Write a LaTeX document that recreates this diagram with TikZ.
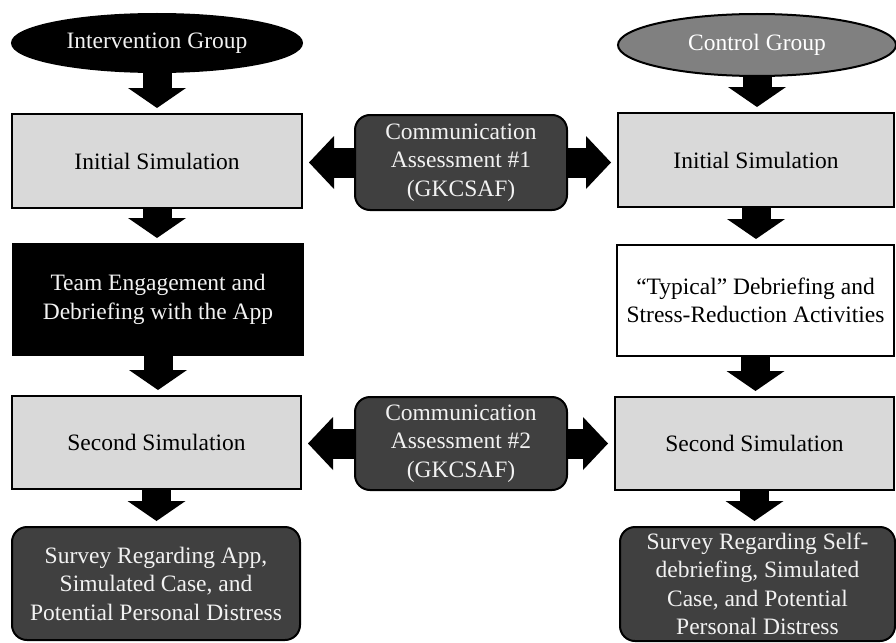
\documentclass[tikz,border=0pt]{standalone}
\usepackage{fontspec}
\setmainfont{Liberation Serif}
\usetikzlibrary{shapes.geometric,arrows.meta}
\definecolor{simgray}{HTML}{D9D9D9}
\definecolor{darkbox}{HTML}{404040}
\definecolor{midgray}{HTML}{808080}
\definecolor{lighttext}{HTML}{F2F2F2}
\tikzset{
  base/.style={font=\fontsize{23.5pt}{28.5pt}\selectfont, align=center, line width=2pt, draw=black, inner sep=0pt},
  simbox/.style={base, rectangle, fill=simgray, text=black},
  blackbox/.style={base, rectangle, fill=black, text=lighttext},
  whitebox/.style={base, rectangle, fill=white, text=black},
  darkround/.style={base, rectangle, rounded corners=15pt, fill=darkbox, text=lighttext},
  groupell/.style={base, ellipse},
  varrow/.style={line width=29pt, -{Triangle[width=58pt,length=20pt,line width=0pt]}, shorten >=5pt},
  harrow/.style={line width=30pt, -{Triangle[width=53pt,length=25pt,line width=0pt]}, shorten >=6pt}
}
\begin{document}
\begin{tikzpicture}[x=1pt,y=-1pt]
\useasboundingbox (0,0) rectangle (896,642);
% left column
\node[groupell, fill=black, text=lighttext, minimum width=290pt, minimum height=58pt] (IG) at (157,43) {Intervention Group};
\node[simbox, minimum width=290pt, minimum height=94pt] (L1) at (157,161) {Initial Simulation};
\node[blackbox, minimum width=290pt, minimum height=111pt] (L2) at (158,299.5) {Team Engagement and\\Debriefing with the App};
\node[simbox, minimum width=289pt, minimum height=93pt] (L3) at (156.5,442.5) {Second Simulation};
\node[darkround, minimum width=288pt, minimum height=113pt] (L4) at (156,583.5) {Survey Regarding App,\\Simulated Case, and\\Potential Personal Distress};
% right column
\node[groupell, fill=midgray, text=white, minimum width=278pt, minimum height=62pt] (CG) at (757,45) {Control Group};
\node[simbox, minimum width=276pt, minimum height=94pt] (R1) at (756,160) {Initial Simulation};
\node[whitebox, minimum width=277pt, minimum height=111pt] (R2) at (755.5,300.5) {“Typical” Debriefing and\\Stress-Reduction Activities};
\node[simbox, minimum width=279pt, minimum height=93pt] (R3) at (754.5,443.5) {Second Simulation};
\node[darkround, minimum width=275pt, minimum height=114pt] (R4) at (757.5,584) {Survey Regarding Self-\\debriefing, Simulated\\Case, and Potential\\Personal Distress};
% middle
\node[darkround, minimum width=212pt, minimum height=95pt] (C1) at (461,162.5) {Communication\\Assessment \#1\\(GKCSAF)};
\node[darkround, minimum width=212pt, minimum height=93pt] (C2) at (461,443.5) {Communication\\Assessment \#2\\(GKCSAF)};
% vertical arrows
\draw[varrow] (IG.south) -- (IG.south |- L1.north);
\draw[varrow] (L1.south) -- (L1.south |- L2.north);
\draw[varrow] (L2.south) -- (L2.south |- L3.north);
\draw[varrow] (L3.south) -- (L3.south |- L4.north);
\draw[varrow] (CG.south) -- (CG.south |- R1.north);
\draw[varrow] (R1.south) -- (R1.south |- R2.north);
\draw[varrow] (R2.south) -- (R2.south |- R3.north);
\draw[varrow] (R3.south) -- (R3.south |- R4.north);
% horizontal arrows
\draw[harrow] (C1.west) -- (C1.west -| L1.east);
\draw[harrow] (C1.east) -- (C1.east -| R1.west);
\draw[harrow] (C2.west) -- (C2.west -| L3.east);
\draw[harrow] (C2.east) -- (C2.east -| R3.west);
\end{tikzpicture}
\end{document}
